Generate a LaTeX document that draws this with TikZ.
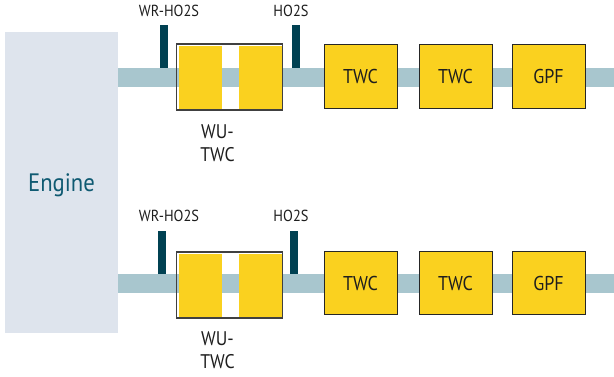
\documentclass[tikz,border=0pt]{standalone}
\usepackage{fontspec}
\setmainfont[FakeStretch=0.9]{PT Sans}
\definecolor{enginebg}{HTML}{DEE4ED}
\definecolor{enginetxt}{HTML}{0F5A72}
\definecolor{pipec}{HTML}{A8C6CE}
\definecolor{sensorc}{HTML}{004152}
\definecolor{brick}{HTML}{FAD11F}
\definecolor{txtc}{HTML}{1E1E1E}
\tikzset{
  x=0.75pt,y=-0.75pt,
  box/.style={draw=none,inner sep=0pt,outer sep=0pt,anchor=center},
  enginebox/.style={box,fill=enginebg,minimum width=84.75pt,minimum height=225.75pt,text=enginetxt,text height=13pt,text depth=0pt,font=\fontsize{18.9}{20}\selectfont},
  pipeline/.style={draw=pipec,line width=14.25pt},
  sensor/.style={box,fill=sensorc,minimum width=6pt,minimum height=32.25pt},
  brickbox/.style={box,fill=brick,draw=black!85,line width=0.7pt,minimum width=54.75pt,minimum height=47.5pt,text=txtc,font=\fontsize{15}{17}\selectfont},
  wubrick/.style={box,fill=brick,minimum width=32.5pt,minimum height=47.25pt},
  wuframe/.style={box,draw=black!75,line width=0.8pt,minimum width=80pt,minimum height=49.5pt},
  lab/.style={inner sep=0pt,text=txtc,font=\fontsize{12}{14}\selectfont},
  wulab/.style={inner sep=0pt,text=txtc,align=center,font=\fontsize{14.8}{17}\selectfont},
}
\begin{document}
\begin{tikzpicture}
\useasboundingbox (0,0) rectangle (614,376);
\node[enginebox] (engine) at (61.5,182.5) {Engine};

\coordinate (s1) at (118,77.5);
\coordinate (e1) at (614,77.5);
\coordinate (s2) at (118,283.5);
\coordinate (e2) at (614,283.5);
\draw[pipeline] (s1) -- (e1);
\draw[pipeline] (s2) -- (e2);

% upper row
\node[sensor] (wr1) at (164,46.5) {};
\node[sensor] (h1) at (296,46) {};
\node[wubrick] (wa1) at (200.3,77.5) {};
\node[wubrick] (wb1) at (260.5,77.5) {};
\node[wuframe] (wu1) at (229.5,77) {};
\node[brickbox] (t11) at (360.5,76.5) {TWC};
\node[brickbox] (t12) at (455.5,76.5) {TWC};
\node[brickbox] (g1) at (548.5,76.5) {GPF};
\node[lab] (lw1) at (169,10.5) {WR-HO2S};
\node[lab] (lh1) at (291,10.5) {HO2S};
\node[wulab] (wl1) at (217.5,143) {WU-\\TWC};

% lower row
\node[sensor] (wr2) at (162,252.5) {};
\node[sensor] (h2) at (293.5,252.5) {};
\node[wubrick] (wa2) at (200.3,285.5) {};
\node[wubrick] (wb2) at (260.5,285.5) {};
\node[wuframe] (wu2) at (229.5,285) {};
\node[brickbox] (t21) at (360.5,283) {TWC};
\node[brickbox] (t22) at (455.5,283) {TWC};
\node[brickbox] (g2) at (548.5,283) {GPF};
\node[lab] (lw2) at (169,216) {WR-HO2S};
\node[lab] (lh2) at (291,216) {HO2S};
\node[wulab] (wl2) at (217.5,350) {WU-\\TWC};
\end{tikzpicture}
\end{document}
